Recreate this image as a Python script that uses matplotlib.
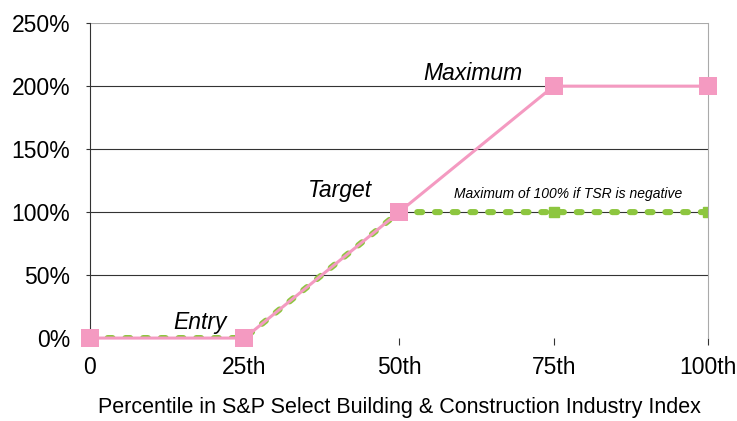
import matplotlib.pyplot as plt

plt.rcParams['font.family'] = ['Liberation Sans', 'DejaVu Sans']

# data
pct = [0, 25, 50, 75, 100]
tick_labels = ['0', '25th', '50th', '75th', '100th']
payout = [0, 0, 100, 200, 200]
payout_neg = [0, 0, 100, 100, 100]
y_ticks = [0, 50, 100, 150, 200, 250]

fig = plt.figure(figsize=(7.37, 4.21), dpi=100)
ax = fig.add_axes([0.122, 0.197, 0.839, 0.748])

# gridlines
for v in y_ticks[1:-1]:
    ax.axhline(v, color='#333333', lw=0.8, zorder=1)
ax.axhline(250, color='#aaaaaa', lw=0.8, zorder=1)

# green = capped at 100% when TSR negative
ax.plot(pct, payout_neg, color='#8DC63F', lw=4.4, ls=(0, (0.8, 2.1)),
        dash_capstyle='round', zorder=2)
ax.plot(pct[2:], payout_neg[2:], ls='none', marker='s', ms=7.5,
        color='#8DC63F', zorder=2)
# pink = normal payout
ax.plot(pct, payout, color='#F49AC1', lw=2.2, marker='s', ms=13,
        markeredgewidth=0, zorder=3, clip_on=False)

ax.set_xlim(0, 100)
ax.set_ylim(0, 250)
ax.set_xticks(pct)
ax.set_xticklabels(tick_labels)
ax.set_yticks(y_ticks)
ax.set_yticklabels([f'{v}%' for v in y_ticks])
ax.tick_params(axis='x', length=5, pad=8, labelsize=16.5, color='#333333')
ax.tick_params(axis='y', length=3, pad=11, labelsize=16.5, color='#333333')

for s in ['top', 'bottom']:
    ax.spines[s].set_visible(False)
ax.spines['left'].set_color('#333333')
ax.spines['left'].set_linewidth(0.8)
ax.spines['right'].set_color('#aaaaaa')
ax.spines['right'].set_linewidth(0.8)

ax.text(62, 210, 'Maximum', style='italic', fontsize=16.5, ha='center', va='center')
ax.text(40.5, 117, 'Target', style='italic', fontsize=16.5, ha='center', va='center')
ax.text(17.8, 12.5, 'Entry', style='italic', fontsize=16.5, ha='center', va='center')
ax.text(77.3, 114, 'Maximum of 100% if TSR is negative', style='italic',
        fontsize=10, ha='center', va='center')

ax.set_xlabel('Percentile in S&P Select Building & Construction Industry Index',
              fontsize=15.5, labelpad=13)

fig.savefig('out.png', dpi=100)
